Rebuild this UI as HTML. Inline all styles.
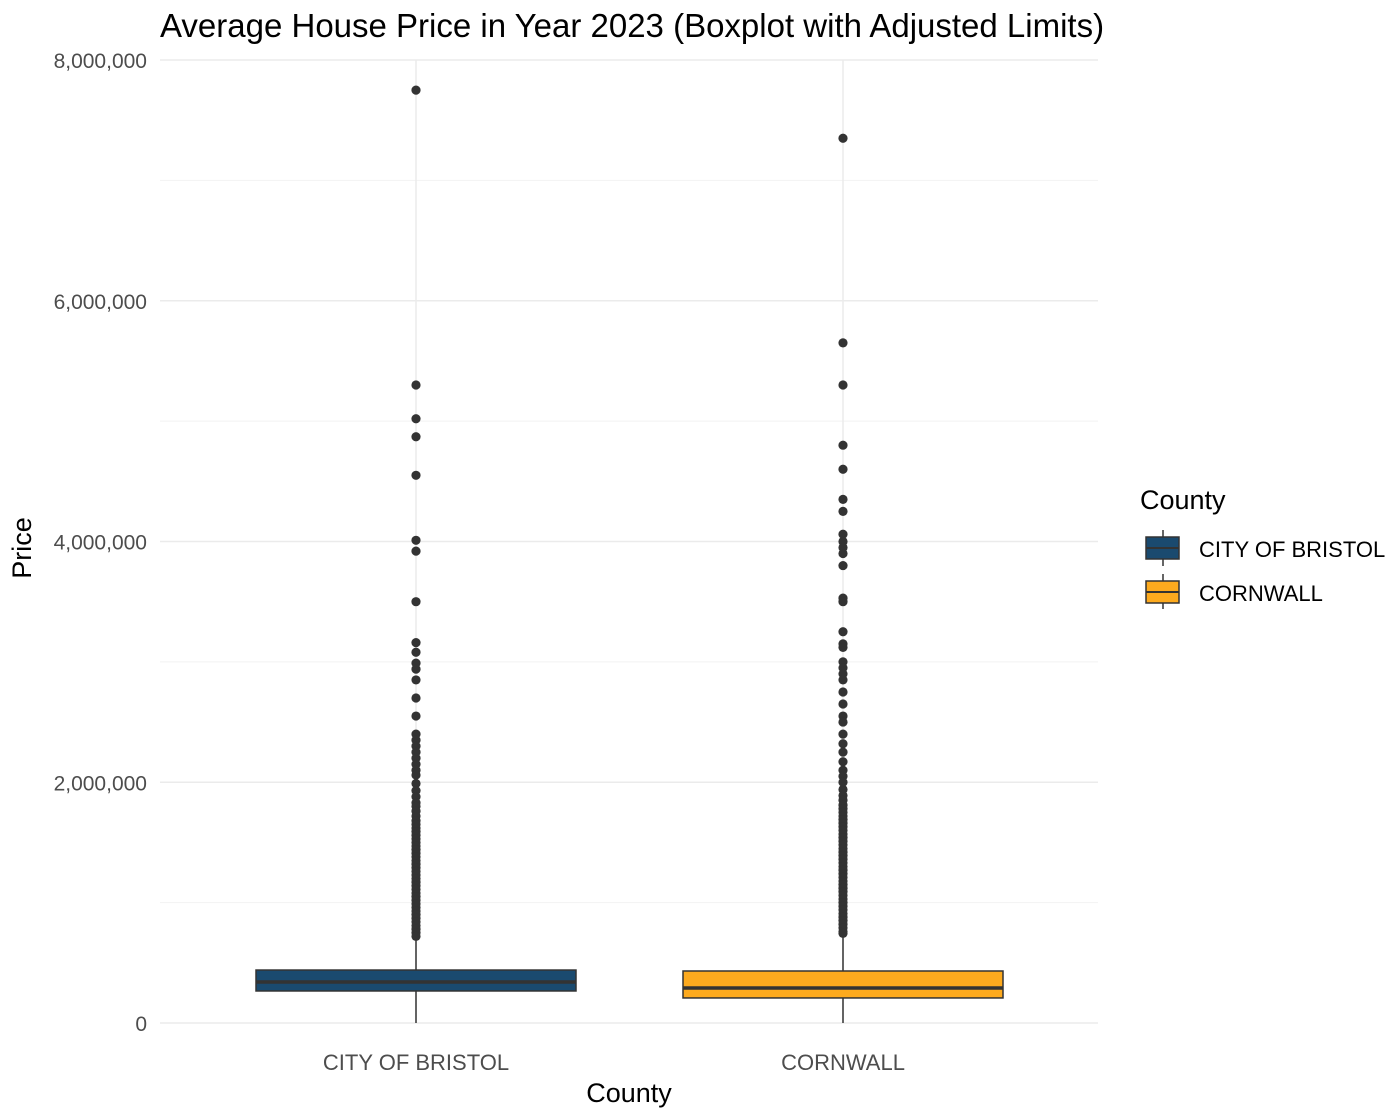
<!DOCTYPE html>
<html><head><meta charset="utf-8"><style>
body{margin:0;background:#fff;}
svg{display:block;font-family:"Liberation Sans",Arial,sans-serif;}
</style></head><body>
<svg id="chart" width="1387" height="1109">
<text x="160" y="37" font-size="33" fill="#000">Average House Price in Year 2023 (Boxplot with Adjusted Limits)</text>
<g id="grid"></g>
<g id="marks"></g>
<g id="axes"></g>
<text x="629" y="1102" font-size="27" text-anchor="middle" fill="#000">County</text>
<text transform="translate(31,548) rotate(-90)" font-size="27" text-anchor="middle" fill="#000">Price</text>
<g>
<text x="1140" y="509" font-size="27" fill="#000">County</text>
<g>
<line x1="1163" y1="530" x2="1163" y2="566" stroke="#333" stroke-width="1.5"/>
<rect x="1146" y="537" width="33" height="22" fill="#1a4a6f" stroke="#333" stroke-width="1.5"/>
<line x1="1146" y1="548" x2="1179" y2="548" stroke="#333" stroke-width="2"/>
<text x="1199" y="557" font-size="22" fill="#000">CITY OF BRISTOL</text>
</g>
<g>
<line x1="1163" y1="574" x2="1163" y2="609" stroke="#333" stroke-width="1.5"/>
<rect x="1146" y="581" width="33" height="22" fill="#fdaa1e" stroke="#333" stroke-width="1.5"/>
<line x1="1146" y1="592" x2="1179" y2="592" stroke="#333" stroke-width="2"/>
<text x="1199" y="601" font-size="22" fill="#000">CORNWALL</text>
</g>
</g>
</svg>
<script>
const categories=["CITY OF BRISTOL","CORNWALL"];
const colors=["#1a4a6f","#fdaa1e"];
const q1=[266000,208000];
const medians=[341000,291000];
const q3=[440000,432000];
const whiskerLow=[0,0];
const whiskerHigh=[690000,730000];
const outliersBristol=[7750000,5300000,5020000,4870000,4550000,4010000,3920000,3500000,3160000,3080000,2990000,2940000,2850000,2700000,2550000,2400000,2350000,2300000,2250000,2200000,2150000,2100000,2060000,1990000,1930000,1880000,1830000,1800000,1760000,1720000,1680000,1650000,1620000,1590000,1560000,1530000,1500000,1470000,1440000,1410000,1380000,1350000,1320000,1290000,1260000,1230000,1200000,1170000,1140000,1110000,1080000,1050000,1020000,990000,960000,930000,900000,870000,840000,810000,780000,750000,720000];
const outliersCornwall=[7350000,5650000,5300000,4800000,4600000,4350000,4250000,4060000,4000000,3950000,3900000,3800000,3530000,3500000,3250000,3150000,3120000,3000000,2950000,2900000,2850000,2750000,2650000,2550000,2500000,2400000,2320000,2250000,2170000,2100000,2050000,2000000,1940000,1890000,1850000,1810000,1780000,1750000,1720000,1690000,1660000,1630000,1600000,1570000,1540000,1510000,1480000,1450000,1420000,1390000,1360000,1330000,1300000,1270000,1240000,1210000,1180000,1150000,1120000,1090000,1060000,1030000,1000000,970000,940000,910000,880000,850000,820000,790000,760000,745000];
const outliers=[outliersBristol,outliersCornwall];
const yMajor=[0,2000000,4000000,6000000,8000000];
const yMajorLabels=["0","2,000,000","4,000,000","6,000,000","8,000,000"];
const yMinor=[1000000,3000000,5000000,7000000];

const NS="http://www.w3.org/2000/svg";
const y=v=>1023-v*(963/8000000);
const x=i=>416+i*427;
const halfW=160;
function mk(tag,attrs,parent){const e=document.createElementNS(NS,tag);for(const k in attrs)e.setAttribute(k,attrs[k]);parent.appendChild(e);return e;}
const grid=document.getElementById('grid'),marks=document.getElementById('marks'),axes=document.getElementById('axes');
yMinor.forEach(v=>{const l=mk('line',{x1:160,x2:1098,y1:y(v),y2:y(v),stroke:'#f2f2f2','stroke-width':1},grid);

});
yMajor.forEach((v,i)=>{const l=mk('line',{x1:160,x2:1098,y1:y(v),y2:y(v),stroke:'#ebebeb','stroke-width':1.5},grid);


const t=mk('text',{x:147,y:y(v)+8,'font-size':21,'text-anchor':'end',fill:'#4d4d4d'},axes);t.textContent=yMajorLabels[i];

});
categories.forEach((c,i)=>{const l=mk('line',{x1:x(i),x2:x(i),y1:60,y2:1023,stroke:'#ebebeb','stroke-width':1.5},grid);


const t=mk('text',{x:x(i),y:1070,'font-size':22,'text-anchor':'middle',fill:'#4d4d4d'},axes);t.textContent=c;


const g=mk('g',{},marks);


mk('line',{x1:x(i),x2:x(i),y1:y(whiskerLow[i]),y2:y(q1[i]),stroke:'#333','stroke-width':1.5},g);
mk('line',{x1:x(i),x2:x(i),y1:y(q3[i]),y2:y(whiskerHigh[i]),stroke:'#333','stroke-width':1.5},g);
mk('rect',{x:x(i)-halfW,y:y(q3[i]),width:2*halfW,height:y(q1[i])-y(q3[i]),fill:colors[i],stroke:'#333','stroke-width':1.5},g);
mk('line',{x1:x(i)-halfW,x2:x(i)+halfW,y1:y(medians[i]),y2:y(medians[i]),stroke:'#333','stroke-width':3.5},g);
outliers[i].forEach(v=>{const p=mk('circle',{cx:x(i),cy:y(v),r:4.6,fill:'#333'},g);

});
});
</script>
</body></html>
